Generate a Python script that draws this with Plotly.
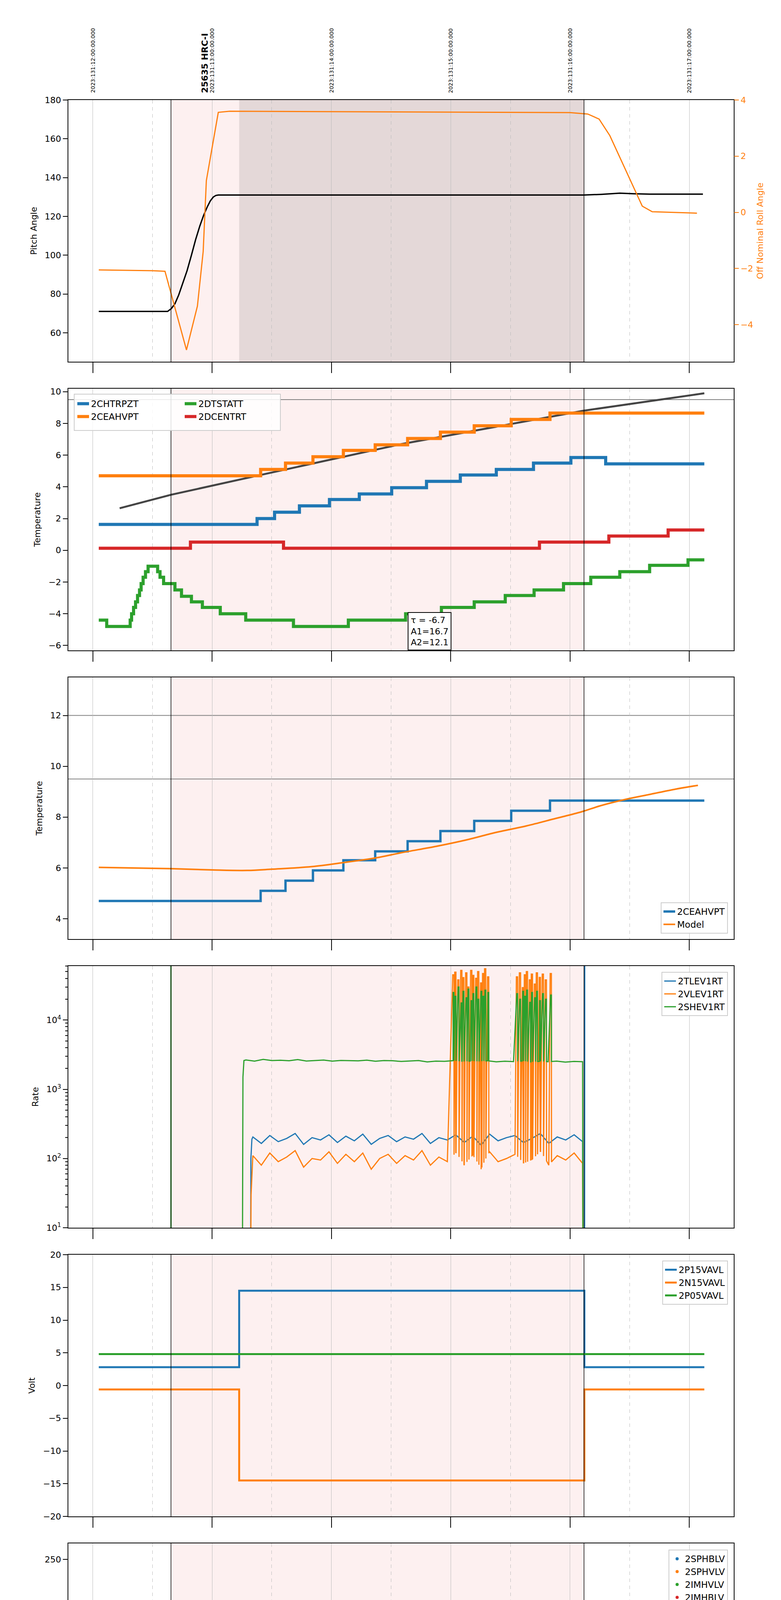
import numpy as np
import pandas as pd
import plotly.graph_objects as go

# ---------------- data (time in minutes after 2023-05-11 08:00) ----------------
pitch_t = [3, 37.6, 39.5, 41.3, 43.2, 45.1, 47.4, 49.6, 51.7, 53.8, 55.7, 57.6, 59.1, 60.6, 61.9, 63.1, 247, 256, 265, 272, 280, 306.8]
pitch_v = [71, 71, 72.5, 75, 79.5, 85, 92, 100, 108, 115, 120.5, 125, 128, 130, 130.8, 131, 131, 131.4, 132, 131.7, 131.5, 131.5]
roll_t = [3, 30, 36.3, 47.1, 52.6, 55.5, 57.1, 63.1, 68.9, 240, 248.9, 254.6, 260, 270, 276.3, 281.3, 303.8]
roll_v = [-2.05, -2.08, -2.1, -4.9, -3.34, -1.4, 1.13, 3.56, 3.6, 3.55, 3.5, 3.32, 2.73, 1.2, 0.22, 0.02, -0.03]

chtrpzt_e = [3, 82.6, 91.4, 103.9, 119, 134, 150.3, 167.8, 184.8, 202.9, 221.6, 240.4, 257.9, 307.5]
chtrpzt_v = [1.63, 2.0, 2.4, 2.8, 3.2, 3.55, 3.95, 4.35, 4.75, 5.1, 5.5, 5.85, 5.45]
ceahvpt_e = [3, 84.4, 96.9, 110.7, 126, 142, 158.3, 174.8, 191.8, 210.4, 229.9, 307.5]
ceahvpt_v = [4.7, 5.1, 5.5, 5.9, 6.3, 6.65, 7.05, 7.45, 7.85, 8.25, 8.65]
dcentrt_e = [3, 49.1, 95.9, 224.6, 259.5, 289.3, 307.5]
dcentrt_v = [0.13, 0.52, 0.13, 0.52, 0.9, 1.28]
dtstatt_e = [3, 7, 18.8, 19.5, 20.5, 21.5, 22.5, 23.5, 24.3, 25.3, 26.5, 27.8, 32.6, 33.8, 35.6, 41.3,
             44.6, 49.6, 55.1, 64.1, 76.9, 100.9, 128.5, 157.3, 175.3, 191.8, 207.4, 221.9, 236.7, 250.4,
             265, 280, 299.3, 307.5]
dtstatt_v = [-4.4, -4.8, -4.4, -4.0, -3.6, -3.25, -2.85, -2.5, -2.1, -1.7, -1.35, -1.0, -1.35, -1.7, -2.1,
             -2.5, -2.9, -3.25, -3.6, -4.0, -4.4, -4.8, -4.4, -4.0, -3.6, -3.25, -2.85, -2.5, -2.1, -1.7,
             -1.35, -0.95, -0.6]
fit_t = [13.5, 39.3, 82.6, 155.3, 246.7, 307.5]
fit_v = [2.65, 3.5, 4.7, 6.7, 8.8, 9.9]

model_t = [3, 39.3, 60.1, 77.6, 90.2, 110.2, 125.2, 142.8, 155.3, 172.8, 187.8, 202.9, 217.9, 232.9,
           245.4, 255.4, 268, 280.5, 293, 304.3]
model_v = [6.02, 5.97, 5.92, 5.9, 5.95, 6.05, 6.2, 6.4, 6.6, 6.85, 7.1, 7.4, 7.65, 7.95, 8.2, 8.45, 8.7,
           8.9, 9.1, 9.25]

tlev_noise = [205, 165, 215, 175, 195, 230, 160, 200, 185, 220, 170, 210, 180, 225, 160, 195, 215, 175, 205, 190,
              230, 165, 200, 185, 220, 170, 210, 155, 225, 180, 200, 215, 170, 195, 230, 165, 205, 185, 220, 175]
vlev_noise = [110, 80, 120, 90, 105, 130, 75, 100, 95, 125, 85, 115, 90, 120, 70, 100, 115, 85, 110, 95,
              130, 80, 105, 90, 120, 80, 110, 70, 125, 90, 100, 115, 85, 95, 125, 80, 110, 95, 120, 85]
shev_noise = [2650, 2550, 2700, 2600, 2620, 2580, 2680, 2560, 2600, 2640, 2550, 2610, 2590, 2570, 2630, 2540,
              2600, 2580, 2520, 2560, 2600, 2480, 2550, 2530, 2590, 2500, 2560, 2520, 2580, 2490, 2540, 2510,
              2560, 2480, 2530, 2500, 2550, 2470, 2520, 2500]
spike_t = [181, 182, 183.5, 185, 186, 187.5, 188.5, 190, 191, 192.5, 193.5, 195, 196, 197, 198.5,
           213, 214.5, 216, 217, 218, 219.5, 220.5, 222, 223, 224.5, 226, 227.5, 230]
vlev_spike = [45000, 50000, 38000, 52000, 41000, 48000, 30000, 52000, 45000, 40000, 50000, 35000, 47000, 55000, 42000,
              42000, 48000, 30000, 45000, 50000, 38000, 47000, 33000, 48000, 42000, 46000, 38000, 47000]
shev_spike = [25000, 22000, 30000, 18000, 26000, 21000, 28000, 19000, 24000, 30000, 20000, 26000, 22000, 27000, 25000,
              24000, 20000, 26000, 22000, 27000, 18000, 25000, 21000, 26000, 19000, 24000, 20000, 23000]

p15_e = [3, 73.6, 247.2, 307.5]
p15_v = [2.8, 14.5, 2.8]
n15_e = [3, 73.6, 247.2, 307.5]
n15_v = [-0.6, -14.5, -0.6]
p05_e = [3, 307.5]
p05_v = [4.8]

imhblv_t0 = [76.8, 77.0, 77.2, 77.5, 77.7, 78.0, 78.5, 79.0, 79.5, 80.0, 80.5]
imhblv_v0 = [127, 122, 119, 106, 105, 101, 97, 95, 92, 90, 88]
imhvlv_t0 = [76.8, 77.2, 77.5, 78.0, 78.5, 79.0, 79.5]
imhvlv_v0 = [100, 99, 95, 90, 86, 83, 80]
imhblv_level = 86
imhvlv_level = 79
imhvlv_hi_t = [185, 186.5, 188, 188.8, 189.5, 191.5, 219, 220, 222.5, 223.5]
imhvlv_hi_v = [127] * 10
imhblv_lo_t = [185, 186, 188, 189, 191, 219, 220, 223, 224]
imhblv_lo_v = [79] * 9

imhvatm_e = [73.6, 85.1, 91.4, 96.4, 103.4, 110.7, 118.2, 126.5, 135.7, 145.8, 156.8, 168.3, 180.3, 192.3,
             206.6, 222.4, 238.7, 246.7]
imhvatm_v = [13.6, 13.9, 14.15, 14.45, 14.75, 15.05, 15.3, 15.6, 15.85, 16.1, 16.4, 16.65, 17.0, 17.3, 17.55,
             17.85, 18.1]
sphvatm_e = [73.6, 105.7, 126.5, 144.5, 160.3, 174.8, 198.8, 206.6, 225.4, 238.7, 246.7]
sphvatm_v = [14.15, 14.4, 14.7, 14.95, 15.25, 15.55, 15.8, 16.1, 16.4, 16.65]
spinatm_e = [73.6, 89.7, 153.9, 207.1, 246.7]
spinatm_v = [3.2, 2.85, 3.2, 3.7]
iminatm_e = [73.6, 130.7, 210.4, 246.7]
iminatm_v = [1.1, 1.5, 1.95]
tog1 = [181, 182.5, 184, 185.5, 186.5, 188, 189, 190.5, 192, 193.5, 195, 196, 197.5]
tog2 = [213, 215, 216.5, 218, 219.5, 221, 222.5, 224, 225.5, 227, 228.5]

fhtrmzt_e = [3, 80.6, 90.2, 97.2, 104.7, 111.4, 119, 126, 133.2, 140.7, 147.8, 155.3, 163.3, 171.3, 179.3,
             187.3, 195.8, 204.4, 212.9, 222.4, 230.9, 240.4, 249.7, 273.5, 301.8, 307.5]
fhtrmzt_v = [-9.25, -8.8, -8.4, -7.95, -7.55, -7.15, -6.75, -6.4, -6.0, -5.6, -5.2, -4.8, -4.4, -4.0, -3.65,
             -3.3, -2.9, -2.5, -2.15, -1.75, -1.4, -1.0, -0.6, -1.0, -1.38]
fradpyt_e = [90, 92.9, 99.7, 106.4, 113.4, 121, 128.2, 136, 144, 152, 160.3, 169, 177.3, 186.6, 195.3, 204.6,
             214.1, 224.9, 232.9, 244.2, 265.5, 289.8, 307.5]
fradpyt_v = [-10.6, -10.05, -9.65, -9.2, -8.8, -8.4, -7.95, -7.55, -7.15, -6.75, -6.35, -5.95, -5.6, -5.2,
             -4.85, -4.45, -4.05, -3.65, -3.3, -2.9, -3.3, -3.65]
fepratm_e = [74.6, 75.6, 78.1, 80.6, 83.6, 87.2, 91.9, 97.7, 103.9, 110.2, 117.2, 124.2, 131.2, 139, 147,
             155.3, 164, 172.3, 185.3, 192.8, 201.6, 210.4, 220.4, 231.7, 242.9]
fepratm_v = [-7.8, -7.45, -7.0, -6.6, -6.2, -5.8, -5.4, -5.0, -4.6, -4.2, -3.8, -3.4, -3.0, -2.6, -2.2, -1.8,
             -1.4, -1.0, -0.6, -0.2, 0.2, 0.65, 1.05, 1.45]
fe00atm_e = [73.6, 78.4, 85.6, 90.2, 95.9, 101.4, 105.2, 111.4, 116.5, 122, 127.7, 134, 139.5, 146.5, 152.3,
             157.8, 164.8, 171.3, 177.8, 181.1, 199.1, 211.6, 220.4, 227.9, 242.9]
fe00atm_v = [-7.1, -6.7, -6.35, -6.0, -5.6, -5.25, -4.9, -4.55, -4.2, -3.85, -3.5, -3.15, -2.8, -2.45, -2.1,
             -1.8, -1.45, -1.1, -0.8, -0.2, 0.2, 0.8, 1.1, 1.6]

hour_ticks = [0, 60, 120, 180, 240, 300]
hour_text = ["08h", "09h", "10h", "11h", "12h", "13h"]
top_text = ["2023:131:12:00:00.000", "2023:131:13:00:00.000", "2023:131:14:00:00.000",
            "2023:131:15:00:00.000", "2023:131:16:00:00.000", "2023:131:17:00:00.000"]
half_ticks = [30, 90, 150, 210, 270]

# ---------------- helpers ----------------
BASE = pd.Timestamp("2023-05-11 08:00")
def T(m):
    return [None if v is None else (BASE + pd.Timedelta(minutes=float(v))).strftime("%Y-%m-%d %H:%M:%S.%f") for v in m]

def step(e, v):
    return list(e), list(v) + [v[-1]]

def base_at(e, v, t):
    i = max(0, min(len(v) - 1, int(np.searchsorted(e, t, side="right")) - 1))
    return v[i]

def noisy(e, v, groups, dur=0.6):
    ev = list(zip(e[:-1], v))
    for toggles, alt in groups:
        for t in toggles:
            ev.append((t, alt))
            ev.append((t + dur, base_at(e, v, t + dur)))
    ev.sort(key=lambda p: p[0])
    xs = [p[0] for p in ev] + [e[-1]]
    ys = [p[1] for p in ev] + [v[-1]]
    return xs, ys

def merge_spikes(bt, bv, st, sv, dur=0.6):
    pts = list(zip(bt, bv))
    for t, s in zip(st, sv):
        pts += [(t, s), (t + dur, s), (t + dur + 0.05, float(np.interp(t + dur, bt, bv)))]
    pts.sort(key=lambda p: p[0])
    return [p[0] for p in pts], [p[1] for p in pts]

BLUE, ORANGE, GREEN, RED = "#1f77b4", "#ff7f0e", "#2ca02c", "#d62728"
W, H = 2000, 6200
L, R, TOP, BOT = 167, 1871, 248, 6091
PH = BOT - TOP
def px(X): return (X - L) / (R - L)
def py(Y): return 1 - (Y - TOP) / PH

panel_top = [248 + 739 * k for k in range(8)]
panel_h = 670

fig = go.Figure()
FAM = "DejaVu Sans"
TICKF = dict(family=FAM, size=22, color="black")
TITLEF = dict(family=FAM, size=22, color="black")
LEGF = dict(family=FAM, size=23, color="black")

def ax_name(k, kind="x"):
    return kind if k == 0 else f"{kind}{k+1}"

def add(k, x, y, name, color, width, legend=None, shape="hv", mode="lines", yaxis=None):
    tr = dict(x=T(x), y=y, name=name or "", mode=mode, showlegend=legend is not None,
              xaxis=ax_name(k, "x"), yaxis=yaxis or ax_name(k, "y"))
    if legend:
        tr["legend"] = legend
    if mode == "lines":
        tr["line"] = dict(color=color, width=width, shape=shape)
    else:
        tr["marker"] = dict(color=color, size=8)
    fig.add_trace(go.Scatter(**tr))

# panel 1
add(0, pitch_t, pitch_v, "Pitch", "black", 3.5, shape="linear")
add(0, roll_t, roll_v, "Roll", ORANGE, 3, shape="linear", yaxis="y9")

# panel 2
add(1, fit_t, fit_v, "fit", "#444444", 5, shape="linear")
x, y = step(chtrpzt_e, chtrpzt_v); add(1, x, y, "2CHTRPZT", BLUE, 8, legend="legend")
x, y = step(ceahvpt_e, ceahvpt_v); add(1, x, y, "2CEAHVPT", ORANGE, 8, legend="legend")
x, y = step(dtstatt_e, dtstatt_v); add(1, x, y, "2DTSTATT", GREEN, 8, legend="legend2")
x, y = step(dcentrt_e, dcentrt_v); add(1, x, y, "2DCENTRT", RED, 8, legend="legend2")

# panel 3
x, y = step(ceahvpt_e, ceahvpt_v); add(2, x, y, "2CEAHVPT", BLUE, 6, legend="legend3")
add(2, model_t, model_v, "Model", ORANGE, 4, legend="legend3", shape="spline")

# panel 4
tb = list(np.linspace(80.5, 246.3, len(tlev_noise)))
tg = list(np.linspace(77.0, 246.3, len(shev_noise)))
xb = [79.3, 79.5, 80.0] + tb + [246.5, 247.3, 247.4]
yb = [1, 100, 190] + tlev_noise + [1, 1, 1e6]
add(3, xb, yb, "2TLEV1RT", BLUE, 3, legend="legend4", shape="linear")
xo, yo = merge_spikes(tb, vlev_noise, spike_t, vlev_spike)
xo = [79.3, 79.6, 80.4] + xo + [246.5]
yo = [1, 30, 100] + yo + [1]
add(3, xo, yo, "2VLEV1RT", ORANGE, 3, legend="legend4", shape="linear")
xg, yg = merge_spikes(tg, shev_noise, [s + 0.2 for s in spike_t], shev_spike, dur=0.4)
xg = [39.3, 39.3, 39.35, None, 75.2, 75.5, 76.0] + xg + [246.5]
yg = [1, 1e6, 1, None, 1, 1500, 2600] + yg + [1]
add(3, xg, yg, "2SHEV1RT", GREEN, 3, legend="legend4", shape="linear")

# panel 5
x, y = step(p15_e, p15_v); add(4, x, y, "2P15VAVL", BLUE, 5, legend="legend5")
x, y = step(n15_e, n15_v); add(4, x, y, "2N15VAVL", ORANGE, 5, legend="legend5")
x, y = step(p05_e, p05_v); add(4, x, y, "2P05VAVL", GREEN, 5, legend="legend5")

# panel 6
flat_t = list(np.arange(81, 247.5, 1.0))
gflat = list(np.arange(80, 247.5, 1.0))
add(5, [None], [None], "2SPHBLV", BLUE, 0, legend="legend6", mode="markers")
add(5, [None], [None], "2SPHVLV", ORANGE, 0, legend="legend6", mode="markers")
add(5, imhvlv_t0 + gflat + imhvlv_hi_t, imhvlv_v0 + [imhvlv_level] * len(gflat) + imhvlv_hi_v,
    "2IMHVLV", GREEN, 0, legend="legend6", mode="markers")
add(5, imhblv_t0 + flat_t + imhblv_lo_t, imhblv_v0 + [imhblv_level] * len(flat_t) + imhblv_lo_v,
    "2IMHBLV", RED, 0, legend="legend6", mode="markers")

# panel 7
x, y = noisy(spinatm_e, spinatm_v, [(tog1, -1), (tog2, -1)])
add(6, [73.6] + x, [-1] + y, "2SPINATM", BLUE, 7, legend="legend7")
x, y = noisy(sphvatm_e, sphvatm_v, [(tog1, 10.8), (tog2, 11.4)])
add(6, [73.6] + x, [-1] + y, "2SPHVATM", ORANGE, 7, legend="legend7")
add(6, [184.8, 184.8], [-1, 15.5], None, ORANGE, 3, shape="linear")
x, y = noisy(iminatm_e, iminatm_v, [(tog1, 3.3), (tog2, 3.7)])
add(6, [73.6] + x, [-1] + y, "2IMINATM", GREEN, 7, legend="legend7")
x, y = noisy(imhvatm_e, imhvatm_v, [(tog1, 15.6), (tog2, 16.0)])
add(6, [73.6] + x + [247.4, 247.4], [-1] + y + [-1, 20], "2IMHVATM", RED, 7, legend="legend7")

# panel 8
x, y = step(fhtrmzt_e, fhtrmzt_v); add(7, x, y, "2FHTRMZT", BLUE, 7, legend="legend8")
x, y = step(fradpyt_e, fradpyt_v); add(7, x, y, "2FRADPYT", ORANGE, 7, legend="legend8")
x, y = noisy(fepratm_e, fepratm_v, [(tog1, -4.65), ([217.5, 219, 220.5, 222, 223.5, 224.8], -4.65)])
add(7, x, y, "2FEPRATM", GREEN, 7, legend="legend8")
x, y = noisy(fe00atm_e, fe00atm_v, [(tog1 + [181.8, 183.2, 187.2, 191.2, 194.2], 2.0)], dur=0.5)
add(7, [73.6] + x, [-11] + y, "2FE00ATM", RED, 7, legend="legend8")
add(7, [184.8, 184.8, None, 247.4, 247.4], [-11, 2, None, -11, 2], None, RED, 6, shape="linear")

# ---------------- axes ----------------
xr = T([-12.3, 322.3])
yranges = [[45.1, 180], [-6.31, 10.19], [3.2, 13.5], [1, 4.78], [-20, 20], [0, 266.3], [-0.41, 18.76], [-10.31, 1.72]]
ytitles = ["Pitch Angle", "Temperature", "Temperature", "Rate", "Volt", "HV Monitor", "Detector Temp", "FEA Temp"]
ytickvals = [[60, 80, 100, 120, 140, 160, 180], [-6, -4, -2, 0, 2, 4, 6, 8, 10], [4, 6, 8, 10, 12],
             [10, 100, 1000, 10000], [-20, -15, -10, -5, 0, 5, 10, 15, 20], [0, 50, 100, 150, 200, 250],
             [0, 2.5, 5, 7.5, 10, 12.5, 15, 17.5], [-10, -8, -6, -4, -2, 0]]
yticktext = [None, None, None, ["10<sup>1</sup>", "10<sup>2</sup>", "10<sup>3</sup>", "10<sup>4</sup>"],
             ["\u221220", "\u221215", "\u221210", "\u22125", "0", "5", "10", "15", "20"], None,
             ["0.0", "2.5", "5.0", "7.5", "10.0", "12.5", "15.0", "17.5"], None]

for k in range(8):
    top = panel_top[k]
    dom = [py(top + panel_h), py(top)]
    xa = dict(type="date", range=xr, domain=[0, 1], anchor=ax_name(k, "y"),
              showgrid=True, gridcolor="#bbbbbb", gridwidth=1,
              tickmode="array", tickvals=T(hour_ticks), ticktext=hour_text,
              showticklabels=(k == 7), ticks="outside", ticklen=27, tickwidth=2, tickcolor="black",
              tickfont=dict(family=FAM, size=24, color="black"), showline=True, linecolor="black", linewidth=2, mirror=True,
              minor=dict(tickmode="array", tickvals=T(half_ticks), showgrid=True, gridcolor="#bbbbbb",
                         griddash="dash", gridwidth=1, ticks=""),
              zeroline=False)
    if k > 0:
        xa["matches"] = "x"
    if k == 7:
        xa["title"] = dict(text="2023-05-11 (131)", font=dict(family=FAM, size=26), standoff=6)
    fig.layout[("xaxis" if k == 0 else f"xaxis{k+1}")] = xa
    ya = dict(domain=dom, anchor=ax_name(k, "x"), range=yranges[k], showgrid=False, zeroline=False,
              tickmode="array", tickvals=ytickvals[k], ticks="outside", ticklen=12, tickwidth=2,
              tickcolor="black", tickfont=TICKF, showline=True, linecolor="black", linewidth=2, mirror=True,
              title=dict(text=ytitles[k], font=TITLEF, standoff=14))
    if yticktext[k]:
        ya["ticktext"] = yticktext[k]
    if k == 3:
        ya["type"] = "log"
        minors = [m * 10 ** d for d in range(1, 5) for m in range(2, 10)]
        ya["minor"] = dict(tickmode="array", tickvals=minors, ticks="outside", ticklen=6, tickwidth=1.5,
                           tickcolor="black")
    fig.layout[("yaxis" if k == 0 else f"yaxis{k+1}")] = ya

fig.layout["yaxis9"] = dict(overlaying="y", side="right", anchor="x", range=[-5.32, 4],
                            tickvals=[-4, -2, 0, 2, 4], ticktext=["\u22124", "\u22122", "0", "2", "4"],
                            ticks="outside", ticklen=12, tickwidth=2, tickcolor=ORANGE,
                            tickfont=dict(family=FAM, size=22, color=ORANGE),
                            showgrid=False, zeroline=False, showline=False,
                            title=dict(text="Off Nominal Roll Angle", font=dict(family=FAM, size=22, color=ORANGE), standoff=10))

# ---------------- shapes ----------------
shapes = []
for k in range(8):
    xref, yref = ax_name(k, "x"), ax_name(k, "y") + " domain"
    shapes.append(dict(type="rect", xref=xref, yref=yref, x0=T([39.3])[0], x1=T([247])[0], y0=0, y1=1,
                       fillcolor="#fdf0f0", line_width=0, layer="below"))
    if k == 0:
        shapes.append(dict(type="rect", xref=xref, yref=yref, x0=T([73.6])[0], x1=T([247])[0], y0=0, y1=1,
                           fillcolor="#e4d8d8", line_width=0, layer="below"))
    for t in (39.3, 247):
        shapes.append(dict(type="line", xref=xref, yref=yref, x0=T([t])[0], x1=T([t])[0], y0=0, y1=1,
                           line=dict(color="black", width=1.5), layer="above"))
for k, vals in ((1, [9.5]), (2, [12, 9.5])):
    for v in vals:
        shapes.append(dict(type="line", xref=ax_name(k, "x") + " domain", yref=ax_name(k, "y"), x0=0, x1=1,
                           y0=v, y1=v, line=dict(color="#808080", width=2), layer="below"))
shapes.append(dict(type="rect", xref="paper", yref="paper", x0=px(182), x1=px(710), y0=py(1094), y1=py(1001),
                   fillcolor="rgba(255,255,255,0.85)", line=dict(color="#cccccc", width=2), layer="above"))
fig.update_layout(shapes=shapes)

# ---------------- annotations ----------------
ann = []
for t, s in zip(hour_ticks, top_text):
    ann.append(dict(x=T([t])[0], y=py(232), xref="x", yref="paper", text=s, textangle=-90, showarrow=False,
                    xanchor="center", yanchor="bottom", font=dict(family=FAM, size=14, color="black")))
ann.append(dict(x=T([56.3])[0], y=py(232), xref="x", yref="paper", text="<b>25635 HRC-I</b>", textangle=-90,
                showarrow=False, xanchor="center", yanchor="bottom", font=dict(family=FAM, size=22, color="black")))
for t in half_ticks:
    ann.append(dict(x=T([t])[0], y=py(6100), xref="x8", yref="paper", text="30", showarrow=False,
                    xanchor="center", yanchor="top", font=dict(family=FAM, size=15, color="black")))
ann.append(dict(x=T([158.3])[0], y=py(1559), xref="x2", yref="paper", xanchor="left", yanchor="top",
                text="\u03c4 = -6.7<br>A1=16.7<br>A2=12.1", align="left", showarrow=False,
                font=dict(family=FAM, size=22, color="black"), bgcolor="white",
                bordercolor="black", borderwidth=2, borderpad=6))
fig.update_layout(annotations=ann)

# ---------------- legends ----------------
def leg(x, y, xa, ya, border=True):
    return dict(x=x, y=y, xanchor=xa, yanchor=ya, font=LEGF,
                bgcolor="rgba(255,255,255,0.85)" if border else "rgba(0,0,0,0)",
                bordercolor="#cccccc", borderwidth=2 if border else 0, tracegroupgap=4)

fig.update_layout(
    width=W, height=H, margin=dict(l=L, r=W - R, t=TOP, b=H - BOT),
    paper_bgcolor="white", plot_bgcolor="white", showlegend=True,
    legend=leg(px(185), py(1004), "left", "top", border=False),
    legend2=leg(px(460), py(1004), "left", "top", border=False),
    legend3=leg(px(1856), py(2382), "right", "bottom"),
    legend4=leg(px(1856), py(2480), "right", "top"),
    legend5=leg(px(1856), py(3219), "right", "top"),
    legend6=leg(px(1856), py(3959), "right", "top"),
    legend7=leg(px(1856), py(4694), "right", "top"),
    legend8=leg(px(1856), py(6078), "right", "bottom"),
)

fig.write_html("out.html")
